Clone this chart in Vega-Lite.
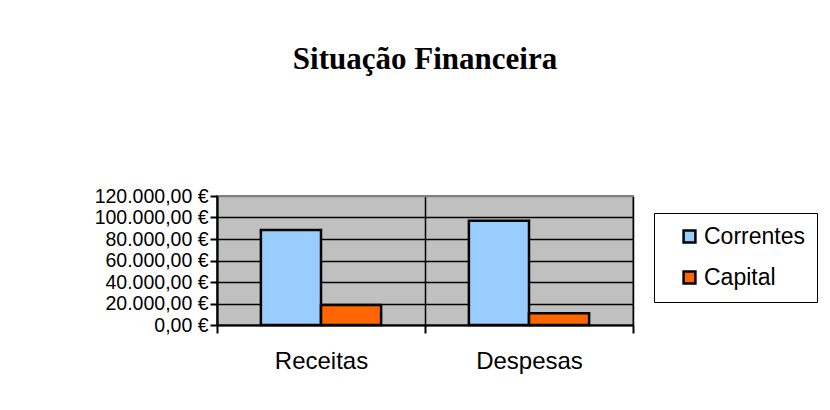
{
  "$schema": "https://vega.github.io/schema/vega-lite/v6.json",
  "autosize": {"type": "none"},
  "width": 416,
  "height": 129,
  "padding": {"left": 217, "top": 196, "right": 197, "bottom": 85},
  "background": "white",
  "config": {
    "locale": {"number": {"decimal": ",", "thousands": ".", "grouping": [3], "currency": ["", " €"]}},
    "view": {"fill": "#C0C0C0", "stroke": "#808080", "strokeWidth": 2},
    "axis": {"labelFont": "Liberation Sans", "labelColor": "black", "domainColor": "black", "tickColor": "black", "gridColor": "black", "gridOpacity": 1, "domainWidth": 2, "tickWidth": 2, "gridWidth": 1.5, "tickSize": 7}
  },
  "title": {
    "text": "Situação Financeira",
    "font": "Liberation Serif",
    "fontSize": 31,
    "fontWeight": "bold",
    "color": "black",
    "anchor": "middle",
    "baseline": "alphabetic",
    "offset": 86
  },
  "data": {
    "values": [
      {"tipo": "Receitas", "serie": "Correntes", "valor": 88400},
      {"tipo": "Receitas", "serie": "Capital", "valor": 18600},
      {"tipo": "Despesas", "serie": "Correntes", "valor": 97000},
      {"tipo": "Despesas", "serie": "Capital", "valor": 10900}
    ]
  },
  "mark": {"type": "bar", "stroke": "black", "strokeWidth": 2.5, "strokeJoin": "miter"},
  "encoding": {
    "x": {
      "field": "tipo",
      "type": "nominal",
      "sort": ["Receitas", "Despesas"],
      "scale": {"paddingInner": 0, "paddingOuter": 0},
      "axis": {"title": null, "labelAngle": 0, "labelFontSize": 24, "tickBand": "extent", "grid": true, "labelPadding": 16, "tickSize": 8}
    },
    "xOffset": {
      "field": "serie",
      "type": "nominal",
      "sort": ["Correntes", "Capital"],
      "scale": {"paddingInner": 0, "paddingOuter": 0.73}
    },
    "y": {
      "field": "valor",
      "type": "quantitative",
      "scale": {"domain": [0, 120000], "nice": false},
      "axis": {"title": null, "values": [0, 20000, 40000, 60000, 80000, 100000, 120000], "format": "$,.2f", "labelFontSize": 19.5, "labelPadding": 2, "labelBaseline": "middle",
        "gridColor": {"condition": {"test": "datum.value == 120000", "value": "#808080"}, "value": "black"}}
    },
    "color": {
      "field": "serie",
      "type": "nominal",
      "sort": ["Correntes", "Capital"],
      "scale": {"domain": ["Correntes", "Capital"], "range": ["#99CCFF", "#FF6600"]},
      "legend": {
        "title": null,
        "orient": "none",
        "legendX": 437,
        "legendY": 17,
        "symbolType": "square",
        "symbolSize": 140,
        "symbolStrokeColor": "black",
        "symbolStrokeWidth": 2.5,
        "symbolOpacity": 1,
        "symbolOffset": 12,
        "labelFont": "Liberation Sans",
        "labelFontSize": 23,
        "labelColor": "black",
        "labelOffset": 3,
        "rowPadding": 17,
        "strokeColor": "black",
        "fillColor": "white",
        "padding": 12,
        "offset": 0
      }
    }
  }
}
